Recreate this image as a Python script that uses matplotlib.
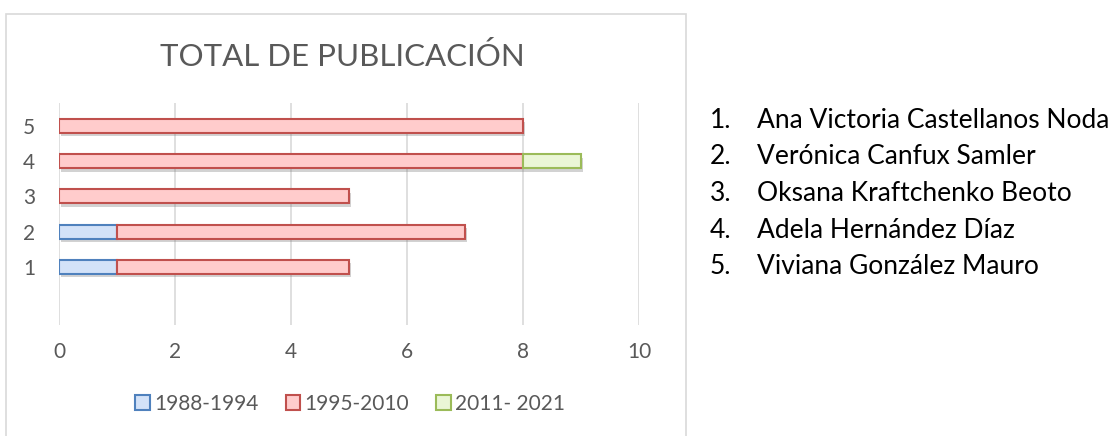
import matplotlib.pyplot as plt
import matplotlib.patheffects as pe
from matplotlib.patches import Rectangle

# data
categories = [1, 2, 3, 4, 5]
periods = ['1988-1994', '1995-2010', '2011- 2021']
s1988 = [1, 1, 0, 0, 0]
s1995 = [4, 6, 5, 8, 8]
s2011 = [0, 0, 0, 1, 0]
names = ['Ana Victoria Castellanos Noda', 'Verónica Canfux Samler',
         'Oksana Kraftchenko Beoto', 'Adela Hernández Díaz',
         'Viviana González Mauro']
xticks = [0, 2, 4, 6, 8, 10]

faces = ['#d3e2f8', '#ffcccc', '#eaf6d6']
edges = ['#4f81bd', '#c0504d', '#9bbb59']

plt.rcParams['font.family'] = ['Lato', 'DejaVu Sans']

W, H = 1118, 436
fig = plt.figure(figsize=(W / 100, H / 100), dpi=100)

# chart border
fig.patches.append(Rectangle((6 / W, -0.05), 680 / W, 1.05 - 14 / H,
                             transform=fig.transFigure, fill=False,
                             edgecolor='#d9d9d9', linewidth=1.2))

ax = fig.add_axes([59 / W, 1 - 325 / H, 580 / W, 222 / H])

shadow = [pe.SimplePatchShadow(offset=(1.5, -2.5), shadow_rgbFace='#808080', alpha=0.35),
          pe.Normal()]
left = [0] * len(categories)
for vals, lab, fc, ec in zip([s1988, s1995, s2011], periods, faces, edges):
    bars = ax.barh(categories, vals, left=left, height=0.4, color=fc,
                   edgecolor=ec, linewidth=1.5, label=lab, zorder=3)
    for b, v in zip(bars, vals):
        if v > 0:
            b.set_path_effects(shadow)
        else:
            b.set_visible(False)
    left = [l + v for l, v in zip(left, vals)]

ax.set_xlim(0, 10)
ax.set_ylim(-0.65, 5.65)
ax.set_xticks(xticks)
ax.set_yticks(categories)
ax.grid(axis='x', color='#d9d9d9', linewidth=1.2, zorder=0)
for s in ax.spines.values():
    s.set_visible(False)
ax.tick_params(length=0, colors='#595959', labelsize=15)
ax.tick_params(axis='x', pad=12)
ax.tick_params(axis='y', pad=17)

fig.text(342 / W, 1 - 56 / H, 'TOTAL DE PUBLICACIÓN', ha='center', va='center',
         fontsize=22.5, color='#595959')

handles = [Rectangle((0, 0), 1, 1, facecolor=f, edgecolor=e, linewidth=1.5)
           for f, e in zip(faces, edges)]
fig.legend(handles, periods, loc='center', bbox_to_anchor=(350 / W, 1 - 404 / H),
           ncol=3, frameon=False, fontsize=15,
           labelcolor='#595959', handlelength=0.7, handleheight=0.7,
           handletextpad=0.2, columnspacing=1.3)

baselines = [128, 164, 201, 238, 274]
for i, (n, y) in enumerate(zip(names, baselines)):
    fig.text(710 / W, 1 - y / H, f'{i + 1}.', ha='left', va='baseline', fontsize=19, color='black')
    fig.text(757 / W, 1 - y / H, n, ha='left', va='baseline', fontsize=19, color='black')

fig.savefig('out.png', dpi=100)
